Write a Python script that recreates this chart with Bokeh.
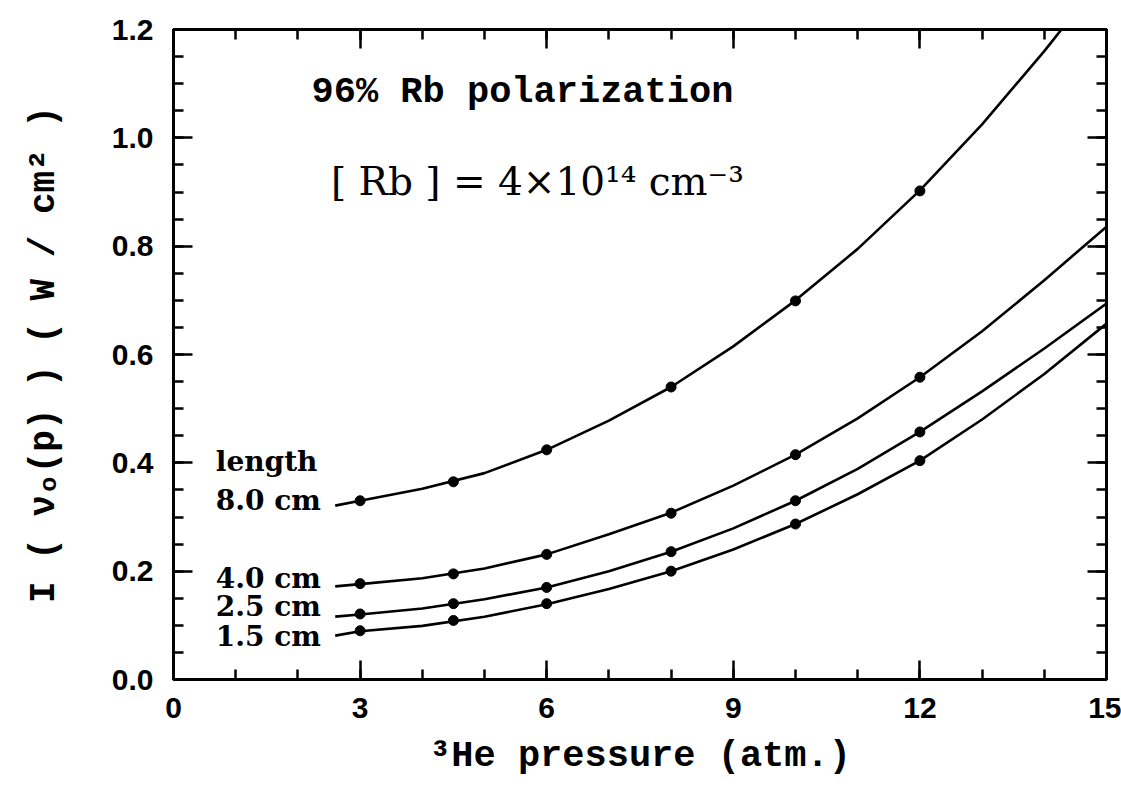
from bokeh.plotting import figure
from bokeh.models import (LinearAxis, FixedTicker, Range1d, Label, PrintfTickFormatter,
                          CustomJSTickFormatter)
from bokeh.embed import file_html
from bokeh.resources import INLINE

# measured points (pressure in atm, intensity in W/cm^2)
pressure = [3, 4.5, 6, 8, 10, 12]
len_8_0 = [0.330, 0.365, 0.424, 0.540, 0.699, 0.902]
len_4_0 = [0.177, 0.195, 0.231, 0.307, 0.415, 0.558]
len_2_5 = [0.121, 0.140, 0.170, 0.236, 0.330, 0.457]
len_1_5 = [0.090, 0.109, 0.140, 0.200, 0.287, 0.404]

# fitted curves
curve_x = [2.6, 3, 4, 5, 6, 7, 8, 9, 10, 11, 12, 13, 14, 15]
curve_8_0 = [0.321, 0.330, 0.352, 0.381, 0.424, 0.478, 0.540, 0.615, 0.700, 0.795, 0.903, 1.025, 1.160, 1.305]
curve_4_0 = [0.172, 0.176, 0.187, 0.205, 0.231, 0.268, 0.308, 0.358, 0.415, 0.482, 0.558, 0.643, 0.737, 0.836]
curve_2_5 = [0.116, 0.120, 0.131, 0.148, 0.170, 0.200, 0.236, 0.279, 0.330, 0.389, 0.457, 0.532, 0.611, 0.694]
curve_1_5 = [0.081, 0.089, 0.099, 0.116, 0.139, 0.167, 0.200, 0.240, 0.287, 0.342, 0.404, 0.480, 0.564, 0.657]

series_labels = ["8.0  cm", "4.0  cm", "2.5  cm", "1.5  cm"]
label_y = [0.330, 0.186, 0.134, 0.080]

x_major = [0, 3, 6, 9, 12, 15]
x_minor = list(range(0, 16))
y_major = [0.0, 0.2, 0.4, 0.6, 0.8, 1.0, 1.2]
y_minor = [round(i * 0.05, 2) for i in range(0, 25)]

p = figure(width=1121, height=788, x_range=Range1d(0, 15), y_range=Range1d(0, 1.2),
           output_backend="svg", toolbar_location=None,
           min_border_left=173, min_border_right=15, min_border_top=29, min_border_bottom=109)
p.grid.visible = False
p.outline_line_color = "black"
p.outline_line_width = 3
p.background_fill_color = "white"
p.border_fill_color = "white"

xt = FixedTicker(ticks=x_major, minor_ticks=x_minor)
yt = FixedTicker(ticks=y_major, minor_ticks=y_minor)

def style(ax, labels=True):
    ax.axis_line_width = 3
    ax.axis_line_color = "black"
    ax.major_tick_in = 19
    ax.major_tick_out = 0
    ax.minor_tick_in = 10
    ax.minor_tick_out = 0
    ax.major_tick_line_width = 2.5
    ax.minor_tick_line_width = 2.5
    ax.major_tick_line_color = "black"
    ax.minor_tick_line_color = "black"
    if not labels:
        ax.formatter = CustomJSTickFormatter(code="return '';")
        ax.major_label_standoff = 0

p.xaxis.ticker = xt
p.yaxis.ticker = yt
p.yaxis.formatter = PrintfTickFormatter(format="%.1f")
style(p.xaxis[0])
style(p.yaxis[0])
for ax in (p.xaxis[0], p.yaxis[0]):
    ax.major_label_text_font = "Liberation Sans"
    ax.major_label_text_font_style = "bold"
    ax.major_label_text_font_size = "30px"
    ax.major_label_text_color = "black"
p.yaxis.major_label_standoff = 20
p.xaxis.major_label_standoff = 18

p.xaxis.axis_label = "³He pressure (atm.)"
p.xaxis.axis_label_text_font = "Liberation Mono"
p.xaxis.axis_label_text_font_style = "bold"
p.xaxis.axis_label_text_font_size = "37px"
p.xaxis.axis_label_text_color = "black"
p.xaxis.axis_label_standoff = 14

p.yaxis.axis_label = "I ( νₒ(p) ) ( W / cm² )"
p.yaxis.axis_label_text_font = "Liberation Mono"
p.yaxis.axis_label_text_font_style = "bold"
p.yaxis.axis_label_text_font_size = "36px"
p.yaxis.axis_label_text_color = "black"
p.yaxis.axis_label_standoff = 44

top = LinearAxis(ticker=xt)
style(top, labels=False)
p.add_layout(top, "above")
right = LinearAxis(ticker=yt)
style(right, labels=False)
p.add_layout(right, "right")

for cy in (curve_8_0, curve_4_0, curve_2_5, curve_1_5):
    p.line(curve_x, cy, line_color="black", line_width=2.6)
for ys in (len_8_0, len_4_0, len_2_5, len_1_5):
    p.scatter(pressure, ys, size=10, fill_color="black", line_color="black")

p.add_layout(Label(x=5.61, y=1.084, text="96% Rb polarization", text_align="center", text_baseline="middle",
                   text_font="Liberation Mono", text_font_style="bold", text_font_size="37px", text_color="black"))
p.add_layout(Label(x=5.85, y=0.92, text="[ Rb ] = 4×10¹⁴ cm⁻³", text_align="center", text_baseline="middle",
                   text_font="DejaVu Serif", text_font_size="39px", text_color="black"))
p.add_layout(Label(x=0.68, y=0.402, text="length", text_align="left", text_baseline="middle",
                   text_font="DejaVu Serif", text_font_style="bold", text_font_size="28px", text_color="black"))
for t, yv in zip(series_labels, label_y):
    p.add_layout(Label(x=0.68, y=yv, text=t, text_align="left", text_baseline="middle",
                       text_font="DejaVu Serif", text_font_style="bold", text_font_size="28px", text_color="black"))

open("out.html", "w").write(file_html(p, INLINE))
